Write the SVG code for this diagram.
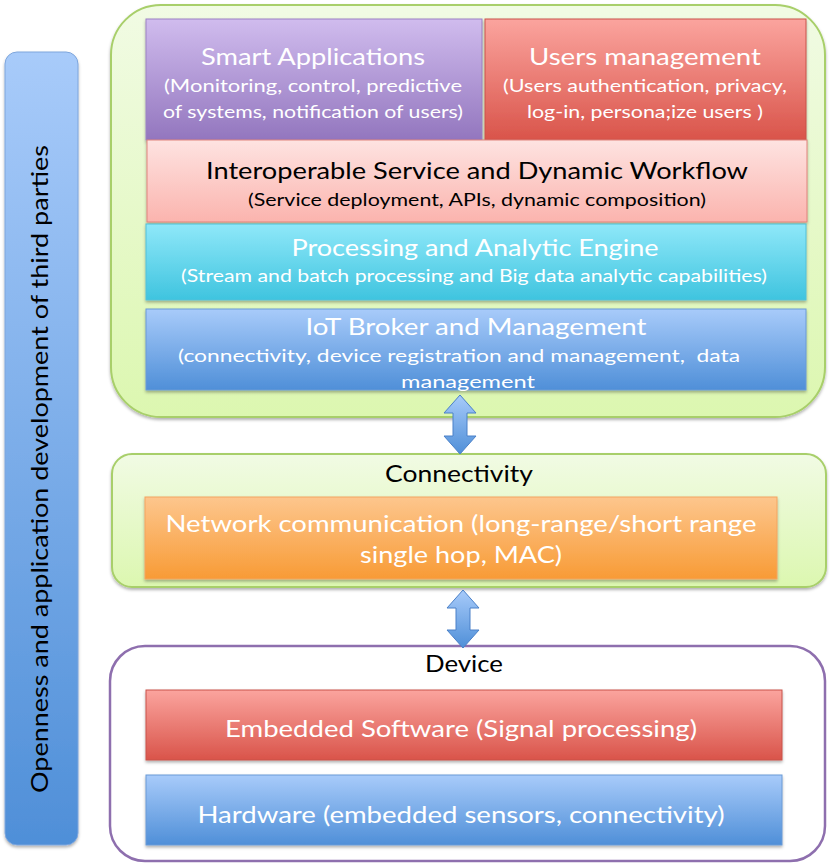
<svg xmlns="http://www.w3.org/2000/svg" width="833" height="864" viewBox="0 0 833 864">
<defs>
<linearGradient id="gGreen" x1="0" y1="0" x2="0" y2="1"><stop offset="0" stop-color="#f1fbe4"/><stop offset="1" stop-color="#dcf7b0"/></linearGradient>
<linearGradient id="gPurple" x1="0" y1="0" x2="0" y2="1"><stop offset="0" stop-color="#d0bcee"/><stop offset="1" stop-color="#9376be"/></linearGradient>
<linearGradient id="gRed" x1="0" y1="0" x2="0" y2="1"><stop offset="0" stop-color="#fba49e"/><stop offset="1" stop-color="#d9544a"/></linearGradient>
<linearGradient id="gPink" x1="0" y1="0" x2="0" y2="1"><stop offset="0" stop-color="#fee3e1"/><stop offset="1" stop-color="#fbb4ae"/></linearGradient>
<linearGradient id="gCyan" x1="0" y1="0" x2="0" y2="1"><stop offset="0" stop-color="#8fe8f9"/><stop offset="1" stop-color="#3fc4df"/></linearGradient>
<linearGradient id="gBlue" x1="0" y1="0" x2="0" y2="1"><stop offset="0" stop-color="#a8cbfa"/><stop offset="1" stop-color="#4f8fd8"/></linearGradient>
<linearGradient id="gOrange" x1="0" y1="0" x2="0" y2="1"><stop offset="0" stop-color="#fdc68d"/><stop offset="1" stop-color="#f89b36"/></linearGradient>
<filter id="sh" x="-5%" y="-10%" width="110%" height="130%"><feDropShadow dx="0" dy="2" stdDeviation="1.5" flood-color="#000" flood-opacity="0.3"/></filter>
</defs>
<style>
.t{font-family:Lato,"Open Sans","Liberation Sans",sans-serif;text-anchor:middle}
.w{fill:#ffffff}
.k{fill:#000000}
.big{font-size:24px}
.sm{font-size:18px}
</style>
<g id="left-bar">
<rect x="5" y="52" width="73" height="793" rx="12" fill="url(#gBlue)" stroke="#7ea6dc" stroke-width="1" filter="url(#sh)"/>
<text class="t k big" transform="translate(48,469) rotate(-90)" textLength="648" lengthAdjust="spacingAndGlyphs">Openness and application development of third parties</text>
</g>
<g id="platform">
<rect x="111" y="5" width="714" height="412" rx="50" fill="url(#gGreen)" stroke="#a8cf6a" stroke-width="2" filter="url(#sh)"/>
</g>
<g id="smart-apps">
<rect x="146" y="19" width="336" height="121" fill="url(#gPurple)" stroke="#9b82c4" stroke-width="1" filter="url(#sh)"/>
<text class="t w big" x="313" y="65" textLength="224" lengthAdjust="spacingAndGlyphs">Smart Applications</text>
<text class="t w sm" x="313" y="92" textLength="298" lengthAdjust="spacingAndGlyphs">(Monitoring, control, predictive</text>
<text class="t w sm" x="313" y="118" textLength="300" lengthAdjust="spacingAndGlyphs">of systems, notification of users)</text>
</g>
<g id="users-mgmt">
<rect x="485" y="19" width="321" height="121" fill="url(#gRed)" stroke="#c9534a" stroke-width="1" filter="url(#sh)"/>
<text class="t w big" x="645" y="65" textLength="232" lengthAdjust="spacingAndGlyphs">Users management</text>
<text class="t w sm" x="645" y="92" textLength="284" lengthAdjust="spacingAndGlyphs">(Users authentication, privacy,</text>
<text class="t w sm" x="645" y="118" textLength="236" lengthAdjust="spacingAndGlyphs">log-in, persona;ize users )</text>
</g>
<g id="interop">
<rect x="147" y="140" width="660" height="82" fill="url(#gPink)" stroke="#e0837c" stroke-width="1" filter="url(#sh)"/>
<text class="t k big" x="477" y="179" textLength="542" lengthAdjust="spacingAndGlyphs">Interoperable Service and Dynamic Workflow</text>
<text class="t k sm" x="477" y="206" textLength="458" lengthAdjust="spacingAndGlyphs">(Service deployment, APIs, dynamic composition)</text>
</g>
<g id="processing">
<rect x="146" y="224" width="660" height="76" fill="url(#gCyan)" stroke="#52c0d8" stroke-width="1" filter="url(#sh)"/>
<text class="t w big" x="475" y="256" textLength="367" lengthAdjust="spacingAndGlyphs">Processing and Analytic Engine</text>
<text class="t w sm" x="474" y="282" textLength="586" lengthAdjust="spacingAndGlyphs">(Stream and batch processing and Big data analytic capabilities)</text>
</g>
<g id="iot-broker">
<rect x="146" y="309" width="660" height="81" fill="url(#gBlue)" stroke="#6a9ad6" stroke-width="1" filter="url(#sh)"/>
<text class="t w big" x="476" y="335" textLength="341" lengthAdjust="spacingAndGlyphs">IoT Broker and Management</text>
<text class="t w sm" x="459" y="362" textLength="562" lengthAdjust="spacingAndGlyphs">(connectivity, device registration and management, &#160;data</text>
<text class="t w sm" x="468" y="388" textLength="134" lengthAdjust="spacingAndGlyphs">management</text>
</g>
<g id="connectivity">
<rect x="112" y="454" width="714" height="133" rx="20" fill="url(#gGreen)" stroke="#a8cf6a" stroke-width="2" filter="url(#sh)"/>
<text class="t k big" x="459" y="482" textLength="148" lengthAdjust="spacingAndGlyphs">Connectivity</text>
</g>
<g id="network">
<rect x="145" y="497" width="632" height="82" fill="url(#gOrange)" stroke="#f4a460" stroke-width="1" filter="url(#sh)"/>
<text class="t w big" x="461" y="532" textLength="591" lengthAdjust="spacingAndGlyphs">Network communication (long-range/short range</text>
<text class="t w big" x="461" y="563" textLength="202" lengthAdjust="spacingAndGlyphs">single hop, MAC)</text>
</g>
<g id="device">
<rect x="110" y="646" width="715" height="215" rx="35" fill="#ffffff" stroke="#8e6fae" stroke-width="2.5"/>
<text class="t k big" x="464" y="672" textLength="78" lengthAdjust="spacingAndGlyphs">Device</text>
</g>
<g id="embedded">
<rect x="146" y="690" width="636" height="70" fill="url(#gRed)" stroke="#c9534a" stroke-width="1" filter="url(#sh)"/>
<text class="t w big" x="461" y="737" textLength="472" lengthAdjust="spacingAndGlyphs">Embedded Software (Signal processing)</text>
</g>
<g id="hardware">
<rect x="146" y="775" width="636" height="70" fill="url(#gBlue)" stroke="#6a9ad6" stroke-width="1" filter="url(#sh)"/>
<text class="t w big" x="461" y="823" textLength="527" lengthAdjust="spacingAndGlyphs">Hardware (embedded sensors, connectivity)</text>
</g>
<g id="connectors" fill="url(#gBlue)" stroke="#4a80c8" stroke-width="1">
<path d="M460,395 L476,413 L467,413 L467,436 L476,436 L460,454 L444,436 L453,436 L453,413 L444,413 Z"/>
<path d="M463,590 L479,608 L470,608 L470,630 L479,630 L463,648 L447,630 L456,630 L456,608 L447,608 Z"/>
</g>
</svg>
